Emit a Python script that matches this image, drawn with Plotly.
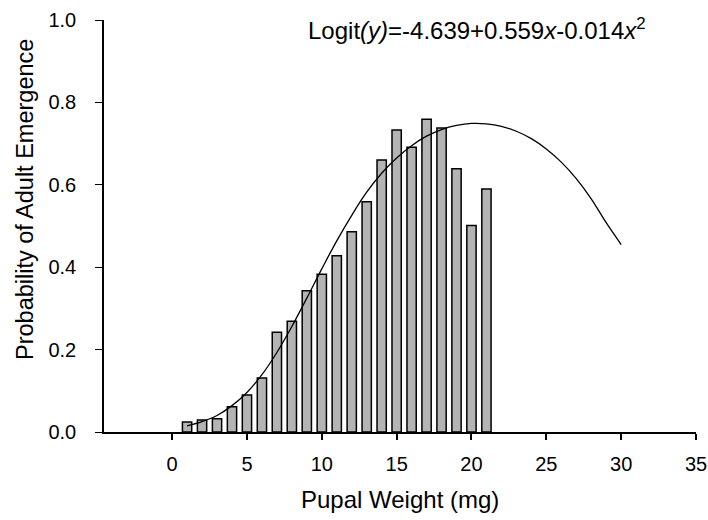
import plotly.graph_objects as go

# Observed proportions (bars)
weights = list(range(1, 22))
emergence = [0.024, 0.029, 0.032, 0.061, 0.090, 0.131, 0.242, 0.269, 0.343, 0.383,
             0.428, 0.486, 0.559, 0.660, 0.733, 0.691, 0.759, 0.738, 0.639, 0.501, 0.590]

# Fitted logistic curve
curve_x = list(range(1, 31))
curve_p = [0.015, 0.025, 0.040, 0.064, 0.096, 0.139, 0.193, 0.256, 0.325, 0.396,
           0.464, 0.526, 0.582, 0.628, 0.665, 0.695, 0.718, 0.734, 0.744, 0.749,
           0.748, 0.742, 0.730, 0.712, 0.687, 0.655, 0.615, 0.566, 0.508, 0.455]

x_ticks = [0, 5, 10, 15, 20, 25, 30, 35]
y_ticks = [0.0, 0.2, 0.4, 0.6, 0.8, 1.0]

FONT = "Liberation Sans, Arial, sans-serif"
W, H = 708, 520
L, R, T, B = 104, 12, 20, 88
pw, ph = W - L - R, H - T - B

def px_x(px):
    return (px - L) / pw

def px_y(py):
    return (H - B - py) / ph

fig = go.Figure()
fig.add_trace(go.Bar(
    x=weights, y=emergence, width=0.62,
    marker=dict(color="#b4b4b4", line=dict(color="black", width=1.5)),
    showlegend=False, hoverinfo="skip"))
fig.add_trace(go.Scatter(
    x=curve_x, y=curve_p, mode="lines",
    line=dict(color="black", width=1.3, shape="spline", smoothing=1.0),
    showlegend=False, hoverinfo="skip"))

fig.update_layout(
    width=W, height=H,
    margin=dict(l=L, r=R, t=T, b=B, autoexpand=False),
    paper_bgcolor="white", plot_bgcolor="white",
    font=dict(family=FONT, color="black"),
    xaxis=dict(range=[-4.55, 35], tickvals=x_ticks, ticktext=[str(v) for v in x_ticks],
               showline=True, linecolor="black", linewidth=2, ticks="outside",
               ticklen=6, tickwidth=1.5, tickcolor="black", showgrid=False,
               zeroline=False, tickfont=dict(size=20), ticklabelstandoff=7,
               ticklabeloverflow="allow"),
    yaxis=dict(range=[0, 1], tickvals=y_ticks, ticktext=[f"{v:.1f}" for v in y_ticks],
               showline=True, linecolor="black", linewidth=1.5, ticks="outside",
               ticklen=7, tickwidth=1.2, tickcolor="black", showgrid=False,
               zeroline=False, tickfont=dict(size=20), ticklabelstandoff=15,
               ticklabeloverflow="allow"),
    annotations=[
        dict(text="Pupal Weight (mg)", xref="paper", yref="paper",
             x=px_x(400), y=px_y(500), xanchor="center", yanchor="middle",
             showarrow=False, font=dict(size=24)),
        dict(text="Probability of Adult Emergence", xref="paper", yref="paper",
             x=px_x(25), y=px_y(200), xanchor="center", yanchor="middle",
             textangle=-90, showarrow=False, font=dict(size=23.5)),
        dict(text="Logit<i>(y)</i>=-4.639+0.559<i>x</i>-0.014<i>x</i><sup>2</sup>",
             xref="paper", yref="paper", x=px_x(648), y=px_y(29),
             xanchor="right", yanchor="middle", showarrow=False,
             font=dict(size=24)),
    ],
)

fig.write_html("out.html", config={"displayModeBar": False},
               post_script="document.body.style.margin='0px';")
